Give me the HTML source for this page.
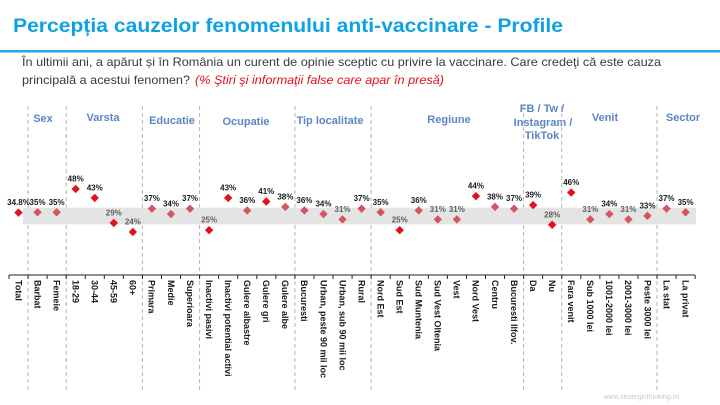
<!DOCTYPE html>
<html><head><meta charset="utf-8"><style>
html,body{margin:0;padding:0;background:#fff;}
svg{display:block;}
text{font-family:"Liberation Sans",Arial,sans-serif;}
</style></head><body>
<svg width="720" height="405" viewBox="0 0 720 405" xmlns="http://www.w3.org/2000/svg">
<rect width="720" height="405" fill="#fff"/>
<text x="13" y="32" font-size="19" font-weight="bold" fill="#0ea2e2" textLength="550" lengthAdjust="spacingAndGlyphs">Percepția cauzelor fenomenului anti-vaccinare - Profile</text>
<rect x="0" y="50" width="720" height="2.5" fill="#2aa7df"/>
<text x="22" y="66" font-size="12" fill="#3a3a3a" textLength="639" lengthAdjust="spacingAndGlyphs">În ultimii ani, a apărut și în România un curent de opinie sceptic cu privire la vaccinare. Care credeţi că este cauza</text>
<text x="22" y="84" font-size="12" fill="#3a3a3a" textLength="168" lengthAdjust="spacingAndGlyphs">principală a acestui fenomen?</text>
<text x="195" y="84" font-size="12" font-style="italic" fill="#e3101e" textLength="249" lengthAdjust="spacingAndGlyphs">(% Ştiri şi informaţii false care apar în presă)</text>

<g font-size="11" font-weight="bold" fill="#5b86c6" text-anchor="middle">
<text x="43" y="122">Sex</text>
<text x="103" y="121">Varsta</text>
<text x="172" y="124">Educatie</text>
<text x="246" y="125">Ocupatie</text>
<text x="330" y="124">Tip localitate</text>
<text x="449" y="123">Regiune</text>
<text x="542" y="112">FB / Tw /</text>
<text x="543" y="126">Instagram /</text>
<text x="542" y="139">TikTok</text>
<text x="605" y="121">Venit</text>
<text x="683" y="121">Sector</text>
</g>

<g stroke="#b5b5b5" stroke-width="1" stroke-dasharray="4,3">
<line x1="28.1" y1="106" x2="28.1" y2="390"/>
<line x1="66.2" y1="106" x2="66.2" y2="390"/>
<line x1="142.4" y1="106" x2="142.4" y2="390"/>
<line x1="199.6" y1="106" x2="199.6" y2="390"/>
<line x1="294.9" y1="106" x2="294.9" y2="390"/>
<line x1="371.1" y1="106" x2="371.1" y2="390"/>
<line x1="523.6" y1="106" x2="523.6" y2="390"/>
<line x1="561.7" y1="106" x2="561.7" y2="390"/>
<line x1="657.0" y1="106" x2="657.0" y2="390"/>
</g>

<rect x="23" y="207.7" width="673" height="16.6" fill="#e4e4e4"/>

<line x1="9" y1="275" x2="695" y2="275" stroke="#222" stroke-width="1"/>
<g stroke="#222" stroke-width="1" id="ticks"></g>

<g id="marks"></g>
<g id="cats" font-size="9" font-weight="bold" fill="#1a1a1a"></g>

<text x="679" y="399" font-size="7" fill="#c8c8c8" text-anchor="end">www.strategicthinking.ro</text>
</svg>
<script>
var data=[["Total",34.8],["Barbat",35],["Femeie",35],["18-29",48],["30-44",43],["45-59",29],["60+",24],["Primara",37],["Medie",34],["Superioara",37],["Inactivi pasivi",25],["Inactivi potential activi",43],["Gulere albastre",36],["Gulere gri",41],["Gulere albe",38],["Bucuresti",36],["Urban, peste 90 mii loc",34],["Urban, sub 90 mii loc",31],["Rural",37],["Nord Est",35],["Sud Est",25],["Sud Muntenia",36],["Sud Vest Oltenia",31],["Vest",31],["Nord Vest",44],["Centru",38],["Bucuresti Ilfov.",37],["Da",39],["Nu",28],["Fara venit",46],["Sub 1000 lei",31],["1001-2000 lei",34],["2001-3000 lei",31],["Peste 3000 lei",33],["La stat",37],["La privat",35]];
var NS="http://www.w3.org/2000/svg";
var ticks=document.getElementById("ticks"),marks=document.getElementById("marks"),cats=document.getElementById("cats");
var step=19.06;
for(var k=0;k<=36;k++){var t=document.createElementNS(NS,"line");var x=9+step*k;t.setAttribute("x1",x);t.setAttribute("x2",x);t.setAttribute("y1",275);t.setAttribute("y2",279);ticks.appendChild(t);}
data.forEach(function(d,i){
 var cx=18.5+step*i,v=d[1],cy=274.9-1.79*v;
 var red=(i==0)||v>=39||v<=29;
 var p=document.createElementNS(NS,"path");
 var r=4.2;
 p.setAttribute("d","M"+cx+","+(cy-r)+"L"+(cx+r)+","+cy+"L"+cx+","+(cy+r)+"L"+(cx-r)+","+cy+"Z");
 p.setAttribute("fill",red?"#e3101c":"#d65462");
 marks.appendChild(p);
 var lc=cy-10.5;
 var gray=(lc>207&&lc<225)&&i!=0;
 var t=document.createElementNS(NS,"text");
 t.setAttribute("x",cx);t.setAttribute("y",cy-7.5);
 t.setAttribute("font-size","8");t.setAttribute("font-weight","bold");
 t.setAttribute("text-anchor","middle");
 t.setAttribute("fill",gray?"#5e5e5e":"#1a1a1a");
 t.textContent=(i==0?"34.8":v)+"%";
 marks.appendChild(t);
 var c=document.createElementNS(NS,"text");
 c.setAttribute("transform","translate("+(cx-3.2)+",280) rotate(90)");
 c.setAttribute("x",0);c.setAttribute("y",0);
 c.textContent=d[0];
 cats.appendChild(c);
});
</script>
</body></html>
